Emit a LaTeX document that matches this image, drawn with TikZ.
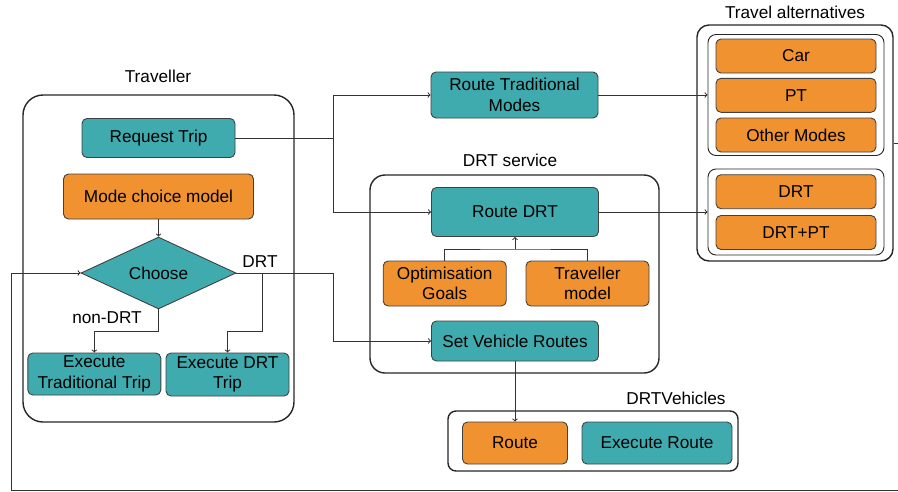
\documentclass[tikz,border=0pt]{standalone}
\usepackage{fontspec}
\setmainfont{Liberation Sans}
\usetikzlibrary{shapes.geometric}
\definecolor{tealfill}{HTML}{40ABAE}
\definecolor{orangefill}{HTML}{F0922F}
\begin{document}
\begin{tikzpicture}[x=1pt,y=-1pt,font=\fontsize{17.2}{20.5}\selectfont,
  box/.style={draw=black!75,line width=0.9pt,rounded corners=5pt,align=center,inner sep=2pt},
  tealbox/.style={box,fill=tealfill},
  orangebox/.style={box,fill=orangefill},
  grpbox/.style={draw=black!85,line width=1.4pt,inner sep=0pt},
  conn/.style={draw=black!80,line width=1pt},
  >=to]
\useasboundingbox (0,0) rectangle (898,491);
\node[grpbox,rounded corners=20pt,minimum width=271,minimum height=327] (trav) at (158.5,258.5) {};
\node[grpbox,rounded corners=15pt,minimum width=289,minimum height=198] (drtsrv) at (514.5,274) {};
\node[grpbox,rounded corners=8pt,minimum width=290,minimum height=60] (veh) at (593,441) {};
\node[grpbox,rounded corners=12pt,minimum width=196,minimum height=236] (alt) at (795,143) {};
\node[grpbox,line width=0.9pt,rounded corners=8pt,minimum width=176,minimum height=121] (altone) at (796,95) {};
\node[grpbox,line width=0.9pt,rounded corners=8pt,minimum width=176,minimum height=86] (alttwo) at (796,212) {};
\node (travlbl) at (158,76) {Traveller};
\node (drtlbl) at (510,160) {DRT service};
\node (vehlbl) at (676,398) {DRTVehicles};
\node (altlbl) at (795,12) {Travel alternatives};
\node[tealbox,minimum width=153,minimum height=39] (request) at (158.5,138) {Request Trip};
\node[orangebox,minimum width=190,minimum height=45] (mode) at (158.5,196.5) {Mode choice model};
\node[diamond,draw=black!75,line width=0.9pt,fill=tealfill,inner sep=0pt,minimum width=155,minimum height=70] (choose) at (158.5,273) {Choose};
\node[tealbox,minimum width=133,minimum height=42,inner sep=0pt] (extrad) at (94.3,374) {Execute\\Traditional Trip};
\node[tealbox,minimum width=123,minimum height=43,inner sep=0pt] (exdrt) at (227.5,374.5) {Execute DRT\\Trip};
\node[tealbox,minimum width=167,minimum height=46] (rtm) at (514.5,95) {Route Traditional\\Modes};
\node[tealbox,minimum width=167,minimum height=49] (rdrt) at (515,212) {Route DRT};
\node[orangebox,minimum width=123,minimum height=45] (opt) at (444.7,283.5) {Optimisation\\Goals};
\node[orangebox,minimum width=123,minimum height=45] (travm) at (587.5,283.5) {Traveller\\model};
\node[tealbox,minimum width=167,minimum height=40] (svr) at (515,341) {Set Vehicle Routes};
\node[orangebox,minimum width=105,minimum height=42] (route) at (515,443) {Route};
\node[tealbox,minimum width=150,minimum height=42] (exroute) at (657,443) {Execute Route};
\node[orangebox,minimum width=160,minimum height=34] (car) at (796,56) {Car};
\node[orangebox,minimum width=160,minimum height=34] (pt) at (796,95.3) {PT};
\node[orangebox,minimum width=160,minimum height=34] (other) at (796,135) {Other Modes};
\node[orangebox,minimum width=160,minimum height=34] (drt) at (796,191.7) {DRT};
\node[orangebox,minimum width=160,minimum height=34] (drtpt) at (796,232.5) {DRT+PT};
\node (drtedge) at (260,262) {DRT};
\node (nondrtedge) at (107,318) {non-DRT};
\coordinate (split) at (333,138);
\coordinate (drtsplit) at (262,273);
\coordinate (join) at (515,249);
\coordinate (fbtop) at (910,143);
\coordinate (fbbot) at (910,490);
\coordinate (fbleft) at (11,490);
\draw[conn] (request) -- (split);
\draw[conn,->] (split) |- (rtm);
\draw[conn,->] (split) |- (rdrt);
\draw[conn,->] (mode) -- (choose);
\draw[conn] (choose.east) -- (drtsplit);
\draw[conn,->] (drtsplit) -- (262,331) -| (exdrt);
\draw[conn,->] (drtsplit) -- (333,273) |- (svr);
\draw[conn,->] (choose.south) -- (158.5,331) -| (extrad);
\draw[conn] (opt) |- (join) -| (travm);
\draw[conn,->] (join) -- (rdrt);
\draw[conn,->] (svr) -- (route);
\draw[conn,->] (rtm) -- (altone);
\draw[conn,->] (rdrt) -- (alttwo);
\draw[conn,->] (alt.east) -- (fbtop) -- (fbbot) -- (fbleft) |- (choose.west);
\end{tikzpicture}
\end{document}
